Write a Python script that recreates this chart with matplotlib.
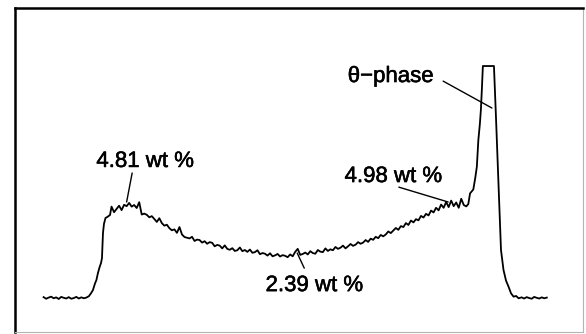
import numpy as np
import matplotlib
matplotlib.use("Agg")
import matplotlib.pyplot as plt
import matplotlib.patheffects as pe

plt.rcParams['font.family'] = ['Liberation Sans', 'DejaVu Sans']

#%% Line-scan data (distance in um, counts in arbitrary units)
distance = [0.0, 0.5, 1.0, 1.5, 2.0, 2.5, 3.0, 3.5, 4.0, 4.5, 5.0, 5.5, 6.0, 6.5, 7.0, 7.5, 8.0, 8.5,
            9.0, 9.4, 9.8, 10.2, 10.5, 10.8, 11.15, 11.4, 11.6, 11.7, 11.8, 12.0, 12.3, 12.7, 13.2,
            13.5, 14.0, 14.5, 15.0, 15.5, 16.0, 16.5, 17.0, 17.5, 18.0, 18.5, 19.0, 19.5, 20.0,
            20.5, 21.0, 21.5, 22.0, 22.5, 23.0, 23.5, 24.0, 24.5, 25.0, 25.5, 26.0, 26.5, 27.0,
            27.5, 28.0, 28.5, 29.0, 29.5, 30.0, 30.5, 31.0, 31.5, 32.0, 32.5, 33.0, 33.5, 34.0,
            34.5, 35.0, 35.5, 36.0, 36.5, 37.0, 37.5, 38.0, 38.5, 39.0, 39.5, 40.0, 40.5, 41.0,
            41.5, 42.0, 42.5, 43.0, 43.5, 44.0, 44.5, 45.0, 45.5, 46.0, 46.5, 47.0, 47.5, 48.0,
            48.5, 49.0, 49.5, 50.0, 50.5, 51.0, 51.5, 52.0, 52.5, 53.0, 53.5, 54.0, 54.5, 55.0,
            55.5, 56.0, 56.5, 57.0, 57.5, 58.0, 58.5, 59.0, 59.5, 60.0, 60.5, 61.0, 61.5, 62.0,
            62.5, 63.0, 63.5, 64.0, 64.5, 65.0, 65.5, 66.0, 66.5, 67.0, 67.5, 68.0, 68.5, 69.0,
            69.5, 70.0, 70.5, 71.0, 71.5, 72.0, 72.5, 73.0, 73.5, 74.0, 74.5, 75.0, 75.5, 76.0,
            76.5, 77.0, 77.5, 78.0, 78.5, 79.0, 79.5, 80.0, 80.5, 81.0, 81.5, 82.0, 82.5, 83.0,
            83.5, 84.0, 84.4, 84.75, 85.1, 85.4, 85.8, 86.1, 86.4, 86.7, 86.9, 87.1, 87.3,
            89.5, 89.9, 90.4, 90.9, 91.4, 91.9, 92.4, 92.9, 93.4, 93.9, 94.4,
            95.0, 95.5, 96.0, 96.5, 97.0, 97.5, 98.0, 98.5, 99.0, 99.5, 100.0]

counts = [0.4, -0.3, 0.2, 0.6, -0.1, 0.3, -0.4, 0.5, 0.1, -0.2, 0.4, -0.3, 0.0, 0.5, -0.2, 0.3, -0.1, 0.2,
          0.8, 2.0, 3.4, 6.2, 7.8, 10.8, 13.5, 15.0, 17.2, 22.5, 28.0, 32.0, 34.5, 35.0, 35.8,
          39.4, 37.0, 38.4, 39.8, 37.9, 40.2, 39.6, 41.0, 39.4, 40.1, 38.8, 41.3, 36.0, 36.4,
          35.9, 34.8, 35.3, 34.1, 32.8, 34.4, 32.3, 31.2, 31.6, 30.1, 29.2, 29.6, 28.1, 30.6,
          27.4, 26.3, 26.0, 25.7, 26.4, 24.6, 25.2, 25.0, 23.9, 24.5, 23.4, 24.1, 23.8, 22.3,
          22.9, 22.6, 21.4, 22.7, 21.2, 20.8, 21.5, 20.3, 20.6, 21.8, 20.2, 20.7, 19.9, 20.9,
          19.5, 19.8, 20.6, 18.9, 19.4, 19.1, 18.3, 19.3, 18.0, 18.4, 19.0, 17.9, 18.5, 18.2,
          17.6, 18.8, 18.0, 19.9, 21.2, 18.6, 19.0, 19.6, 18.8, 20.2, 19.4, 19.1, 20.7, 20.0,
          19.8, 21.4, 20.3, 21.0, 20.6, 22.0, 21.2, 21.7, 22.6, 21.4, 22.3, 23.3, 22.5, 23.0,
          24.1, 23.4, 23.9, 25.0, 24.2, 25.6, 25.1, 26.4, 25.8, 27.2, 26.6, 27.4, 28.7, 28.0,
          29.1, 30.2, 29.4, 31.0, 30.6, 32.3, 31.5, 33.4, 32.6, 34.0, 33.5, 35.4, 34.7, 36.3,
          35.6, 37.7, 36.9, 38.9, 37.8, 40.3, 38.9, 41.4, 39.2, 42.0, 39.6, 41.2, 38.9, 42.8,
          40.1, 39.5, 40.5, 45.1, 46.0, 46.8, 52.0, 56.6, 68.1, 75.0, 81.0, 90.0, 100.0,
          100.0, 78.1, 49.4, 20.7, 12.1, 7.5, 4.9, 2.0, 0.6, 0.9, -0.1,
          0.3, -0.2, 0.4, 0.0, -0.3, 0.5, 0.1, -0.2, 0.3, -0.1, 0.2]

labels = ['4.81 wt %', '2.39 wt %', '4.98 wt %', '\u03b8\u2212phase']
label_points = [(16.5, 41.4), (50.4, 19.4), (80.4, 41.4), (89.1, 81.9)]

#%% Plotting
fig = plt.figure(figsize=(5.86, 3.34), dpi=100)
ax = fig.add_axes([0.0252, 0.0069, 0.9697, 0.9677])

ax.plot(distance, counts, color='black', lw=1.3)

ax.set_xlim(-5.73, 107.2)
ax.set_ylim(-14.5, 124.8)
ax.set_xticks([])
ax.set_yticks([])

ax.spines['left'].set_linewidth(1.8)
ax.spines['top'].set_linewidth(1.8)
ax.spines['right'].set_color('#b4b4b4')
ax.spines['bottom'].set_color('#b4b4b4')
ax.spines['right'].set_linewidth(0.8)
ax.spines['bottom'].set_linewidth(0.8)

# label text positions and leader line starts
text_pos = [(20.2, 56.5), (53.8, 3.0), (69.5, 50.0), (69.0, 93.1)]
leader_start = [(17.6, 53.9), (51.8, 12.9), (70.6, 47.8), (79.4, 93.5)]

for s, p, t, l in zip(labels, label_points, text_pos, leader_start):
    ax.text(t[0], t[1], s, ha='center', va='baseline', fontsize=16,
            path_effects=[pe.withStroke(linewidth=0.4, foreground='black')])
    ax.annotate('', xy=p, xytext=l,
                arrowprops=dict(arrowstyle='-', color='black', lw=1.0, shrinkA=0, shrinkB=0))

fig.savefig('out.png', dpi=100)
